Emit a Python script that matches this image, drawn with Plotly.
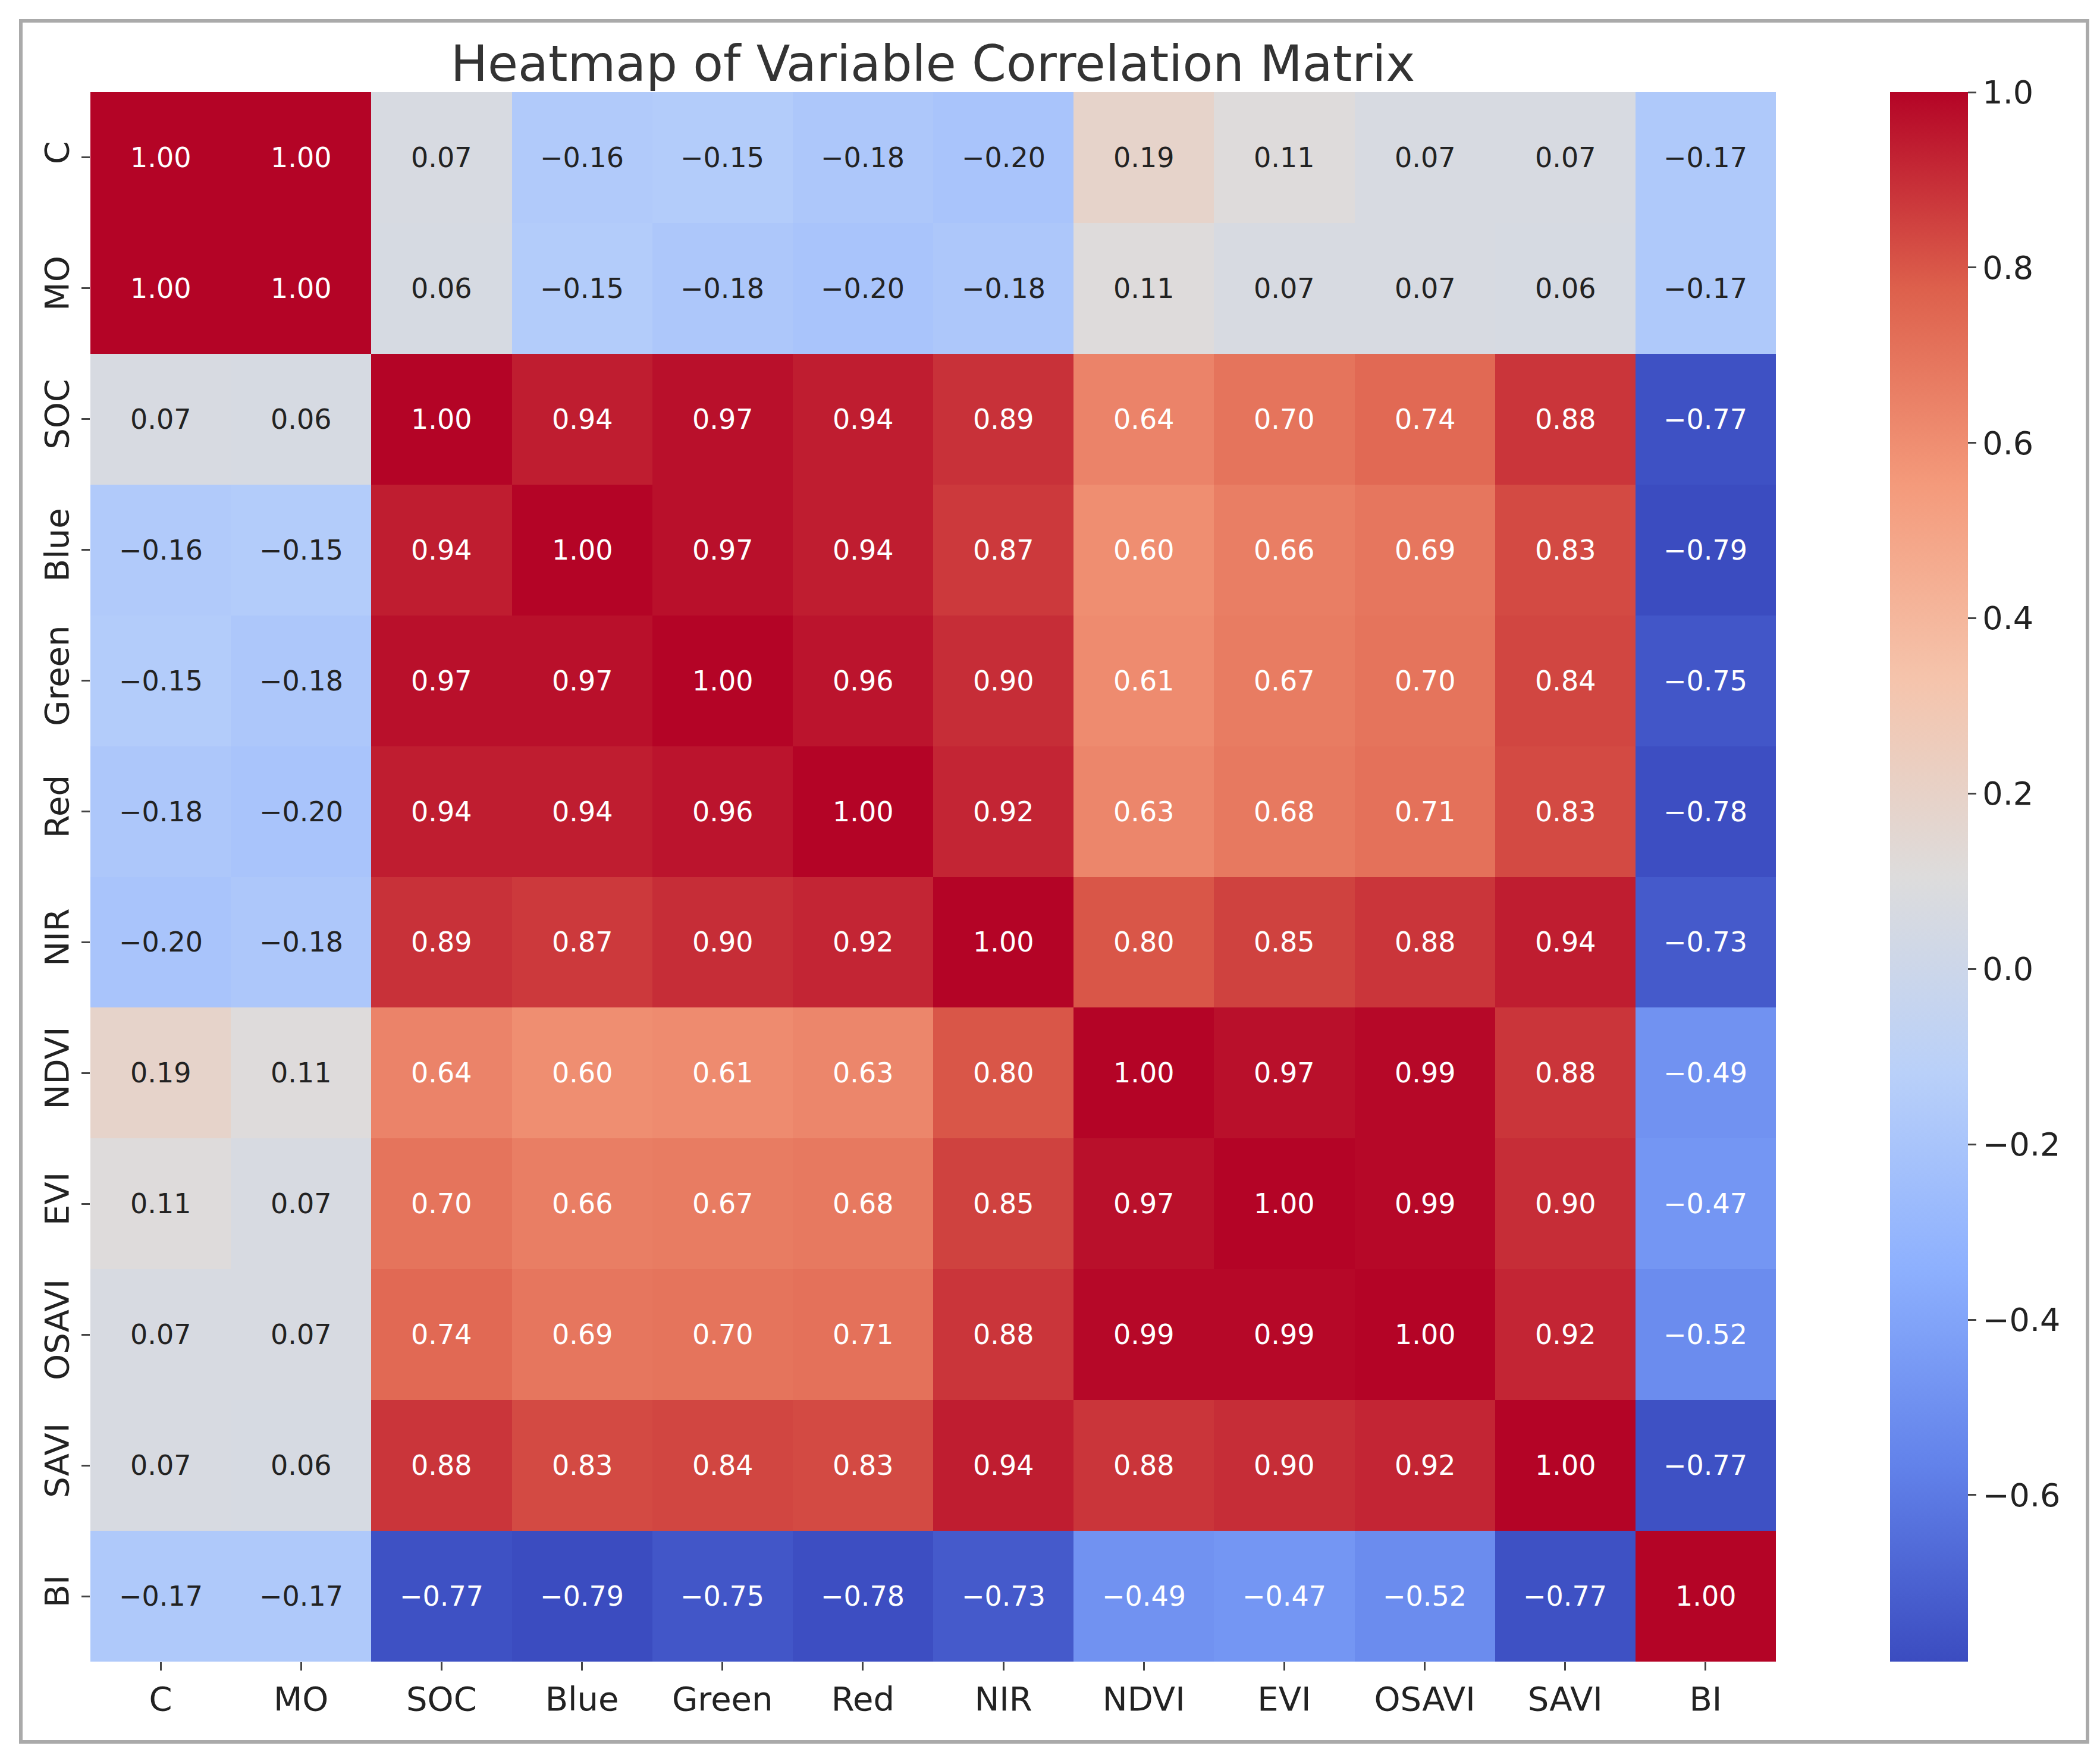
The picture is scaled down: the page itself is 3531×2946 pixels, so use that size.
import plotly.graph_objects as go

labels = ["C", "MO", "SOC", "Blue", "Green", "Red", "NIR", "NDVI", "EVI", "OSAVI", "SAVI", "BI"]
corr = [
    [1.00, 1.00, 0.07, -0.16, -0.15, -0.18, -0.20, 0.19, 0.11, 0.07, 0.07, -0.17],
    [1.00, 1.00, 0.06, -0.15, -0.18, -0.20, -0.18, 0.11, 0.07, 0.07, 0.06, -0.17],
    [0.07, 0.06, 1.00, 0.94, 0.97, 0.94, 0.89, 0.64, 0.70, 0.74, 0.88, -0.77],
    [-0.16, -0.15, 0.94, 1.00, 0.97, 0.94, 0.87, 0.60, 0.66, 0.69, 0.83, -0.79],
    [-0.15, -0.18, 0.97, 0.97, 1.00, 0.96, 0.90, 0.61, 0.67, 0.70, 0.84, -0.75],
    [-0.18, -0.20, 0.94, 0.94, 0.96, 1.00, 0.92, 0.63, 0.68, 0.71, 0.83, -0.78],
    [-0.20, -0.18, 0.89, 0.87, 0.90, 0.92, 1.00, 0.80, 0.85, 0.88, 0.94, -0.73],
    [0.19, 0.11, 0.64, 0.60, 0.61, 0.63, 0.80, 1.00, 0.97, 0.99, 0.88, -0.49],
    [0.11, 0.07, 0.70, 0.66, 0.67, 0.68, 0.85, 0.97, 1.00, 0.99, 0.90, -0.47],
    [0.07, 0.07, 0.74, 0.69, 0.70, 0.71, 0.88, 0.99, 0.99, 1.00, 0.92, -0.52],
    [0.07, 0.06, 0.88, 0.83, 0.84, 0.83, 0.94, 0.88, 0.90, 0.92, 1.00, -0.77],
    [-0.17, -0.17, -0.77, -0.79, -0.75, -0.78, -0.73, -0.49, -0.47, -0.52, -0.77, 1.00],
]
cbar_ticks = [-0.6, -0.4, -0.2, 0.0, 0.2, 0.4, 0.6, 0.8, 1.0]

coolwarm = [
    [0.0, "#3b4cc0"], [0.125, "#6282ea"], [0.25, "#8db0fe"], [0.375, "#b9d0f9"],
    [0.5, "#dddcdc"], [0.625, "#f5c4ac"], [0.75, "#f49a7b"], [0.875, "#dd604c"],
    [1.0, "#b40426"],
]

W, H = 3531, 2946
l, r, t, b = 144, 245, 147, 160
pw, ph = W - l - r, H - t - b

fig = go.Figure(go.Heatmap(
    z=corr, x=labels, y=labels, colorscale=coolwarm, zmin=-0.79, zmax=1.0,
    xgap=0, ygap=0,
    colorbar=dict(
        x=(3160 - l) / pw, xanchor="left", y=0.5, yanchor="middle", len=1.0, ypad=0,
        thickness=131, outlinewidth=0, tickvals=cbar_ticks,
        ticktext=[("\u2212%.1f" % abs(v)) if v < 0 else "%.1f" % v for v in cbar_ticks],
        ticks="outside", ticklen=14, tickwidth=3, tickfont=dict(size=54, color="#222"),
    ),
))

anns = []
for i, row in enumerate(corr):
    for j, v in enumerate(row):
        txt = ("\u2212%.2f" % abs(v)) if v < 0 else "%.2f" % v
        col = "white" if abs(v) > 0.4 else "#222"
        anns.append(dict(x=labels[j], y=labels[i], text=txt, showarrow=False,
                         font=dict(size=46, color=col)))

fig.update_layout(
    width=W, height=H, margin=dict(l=l, r=r, t=t, b=b),
    paper_bgcolor="white", plot_bgcolor="white",
    font=dict(family="DejaVu Sans", color="#222"),
    title=dict(text="Heatmap of Variable Correlation Matrix", x=693 / 1568,
               xanchor="center", y=1 - 99 / H, yanchor="middle",
               font=dict(size=83, color="#333")),
    xaxis=dict(domain=[0, (2978 - l) / pw], ticks="outside", ticklen=14, tickwidth=3,
               tickfont=dict(size=56), showgrid=False, zeroline=False),
    yaxis=dict(autorange="reversed", ticks="outside", ticklen=14, tickwidth=3,
               tickangle=-90, tickfont=dict(size=56), showgrid=False, zeroline=False),
    annotations=anns,
    shapes=[dict(type="rect", xref="paper", yref="paper",
                 x0=(27 - l) / pw, x1=(3502 - l) / pw,
                 y0=(H - b - 2921) / ph, y1=(H - b - 27) / ph,
                 line=dict(color="#aaaaaa", width=6))],
)
fig.write_html("out.html")
